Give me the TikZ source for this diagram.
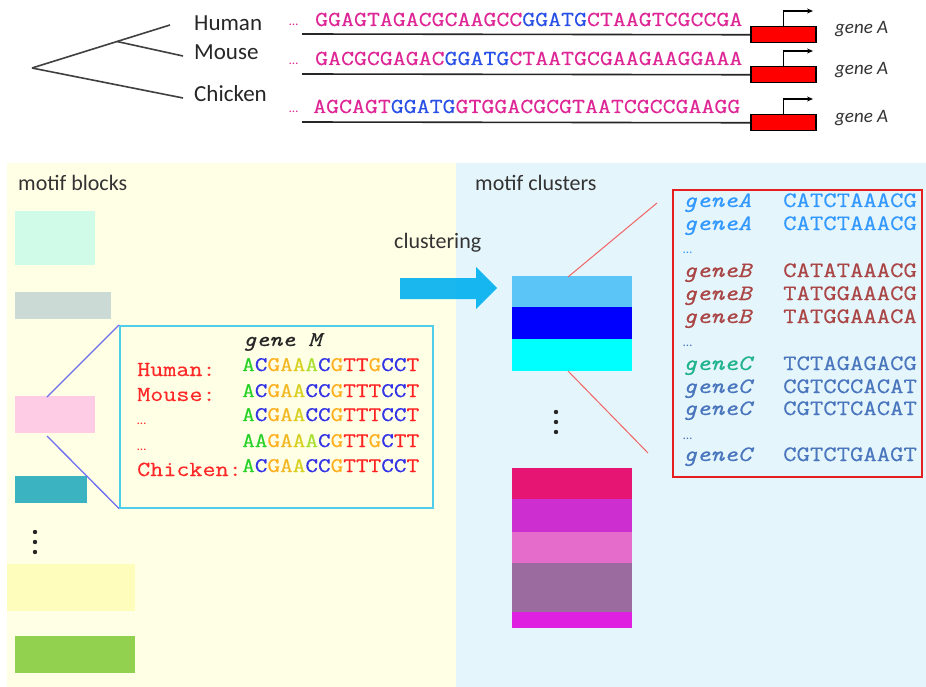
\documentclass[tikz,border=0pt]{standalone}
\usepackage{fontspec}
\setmainfont{Carlito}
\newfontfamily\seqf[FakeStretch=1.18,FakeBold=0.4]{Latin Modern Mono}
\usetikzlibrary{arrows.meta}
\definecolor{treeC}{RGB}{64,64,64}
\definecolor{seqP}{RGB}{222,38,150}
\definecolor{seqB}{RGB}{40,80,230}
\definecolor{panelY}{RGB}{255,255,229}
\definecolor{panelB}{RGB}{229,245,252}
\definecolor{mintC}{RGB}{208,251,232}
\definecolor{grayC}{RGB}{204,218,214}
\definecolor{pinkC}{RGB}{255,204,229}
\definecolor{tealC}{RGB}{60,179,192}
\definecolor{lyelC}{RGB}{255,253,187}
\definecolor{greenC}{RGB}{146,208,80}
\definecolor{boxCyan}{RGB}{80,205,235}
\definecolor{slateL}{RGB}{110,110,240}
\definecolor{arrowC}{RGB}{0,176,240}
\definecolor{cl1}{RGB}{91,197,248}
\definecolor{cl2}{RGB}{0,0,255}
\definecolor{cl3}{RGB}{0,255,255}
\definecolor{cl4}{RGB}{230,20,115}
\definecolor{cl5}{RGB}{204,46,207}
\definecolor{cl6}{RGB}{229,108,202}
\definecolor{cl7}{RGB}{155,107,160}
\definecolor{cl8}{RGB}{224,32,224}
\definecolor{redB}{RGB}{230,30,30}
\definecolor{redL}{RGB}{240,100,100}
\definecolor{labR}{RGB}{255,40,40}
\definecolor{gA}{RGB}{40,210,40}
\definecolor{bC}{RGB}{50,50,230}
\definecolor{oG}{RGB}{255,176,32}
\definecolor{rT}{RGB}{255,32,32}
\definecolor{yA}{RGB}{242,184,36}
\definecolor{yB}{RGB}{216,208,32}
\definecolor{yC}{RGB}{168,224,48}
\definecolor{gnA}{RGB}{51,153,255}
\definecolor{gnB}{RGB}{170,70,70}
\definecolor{gnC}{RGB}{74,118,190}
\definecolor{gnCg}{RGB}{32,180,140}
\newcommand\rowb{{\color{gA}A}{\color{bC}C}{\color{oG}G}{\color{yA}A}{\color{yB}A}{\color{bC}CC}{\color{oG}G}{\color{rT}TTT}{\color{bC}CC}{\color{rT}T}}
\begin{document}
\begin{tikzpicture}[x=1pt,y=-1pt,
  sp/.style={anchor=base west, inner sep=0pt, font=\fontsize{23}{23}\selectfont, text=black!85},
  seqtxt/.style={anchor=base west, inner sep=0pt, font=\seqf\fontsize{21.3}{21.3}\selectfont},
  gtag/.style={anchor=base west, inner sep=0pt, font=\itshape\fontsize{19}{19}\selectfont, text=black!80},
  redbox/.style={draw=black, fill=red, line width=1.5pt, minimum width=65pt, minimum height=16pt, anchor=north west, inner sep=0pt},
  blk/.style={draw=none, inner sep=0pt, anchor=north west},
  ttl/.style={anchor=base west, inner sep=0pt, font=\fontsize{22}{22}\selectfont, text=black!80},
  gm/.style={anchor=base west, inner sep=0pt, font=\seqf\fontsize{21.5}{21.5}\selectfont},
  cls/.style={anchor=base west, inner sep=0pt, font=\seqf\fontsize{22}{22}\selectfont},
  dotsm/.style={anchor=base west, inner sep=0pt, font=\fontsize{13}{13}\selectfont},
  treeline/.style={draw=treeC, line width=1.6pt},
  baseline/.style={draw=black!85, line width=1.6pt},
  promo/.style={draw=black, line width=1.3pt, -{Stealth[length=6pt,width=5pt]}},
]
\useasboundingbox (0,0) rectangle (926,687);
\fill[white] (0,0) rectangle (926,687);

% ---------- tree ----------
\coordinate (r) at (32,68);
\coordinate (h) at (170,25);
\coordinate (br) at (117,41.5);
\coordinate (m) at (183,56);
\coordinate (c) at (183,98);
\draw[treeline] (r) -- (h);
\draw[treeline] (br) -- (m);
\draw[treeline] (r) -- (c);
\node[sp] (lh) at (194,31) {Human};
\node[sp] (lm) at (194,60) {Mouse};
\node[sp] (lc) at (194,102) {Chicken};

% ---------- sequences ----------
\node[dotsm, text=seqP] (d1) at (289,26) {\ldots};
\node[dotsm, text=seqP] (d2) at (289,65) {\ldots};
\node[dotsm, text=seqP] (d3) at (289,113) {\ldots};
\node[seqtxt] (s1) at (315,26) {{\color{seqP}GGAGTAGACGCAAGCC}{\color{seqB}GGATG}{\color{seqP}CTAAGTCGCCGA}};
\node[seqtxt] (s2) at (315,65) {{\color{seqP}GACGCGAGAC}{\color{seqB}GGATG}{\color{seqP}CTAATGCGAAGAAGGAAA}};
\node[seqtxt] (s3) at (313,113) {{\color{seqP}AGCAGT}{\color{seqB}GGATG}{\color{seqP}GTGGACGCGTAATCGCCGAAGG}};

\node[redbox] (b1) at (750,26) {};
\node[redbox] (b2) at (750,66) {};
\node[redbox] (b3) at (750,114) {};
\coordinate (l1) at (302,34);
\coordinate (l2) at (302,74);
\coordinate (l3) at (302,122);
\draw[baseline] (l1) -- (b1.west);
\draw[baseline] (l2) -- (b2.west);
\draw[baseline] (l3) -- (b3.west);
\coordinate (t1) at (813,11);
\coordinate (t2) at (813,51);
\coordinate (t3) at (813,99);
\draw[promo] (b1.north) |- (t1);
\draw[promo] (b2.north) |- (t2);
\draw[promo] (b3.north) |- (t3);
\node[gtag] (g1) at (835,34) {gene A};
\node[gtag] (g2) at (835,75) {gene A};
\node[gtag] (g3) at (835,123) {gene A};

% ---------- panels ----------
\fill[panelY] (7,163) rectangle (456,687);
\fill[panelB] (456,163) rectangle (926,687);
\node[ttl] (tb) at (18,191) {motif blocks};
\node[ttl] (tc) at (475,191) {motif clusters};
\node[ttl] (tcl) at (394,248) {clustering};

% left blocks
\node[blk, fill=mintC, minimum width=80pt, minimum height=54pt] (k1) at (15,211) {};
\node[blk, fill=grayC, minimum width=96pt, minimum height=27pt] (k2) at (15,292) {};
\node[blk, fill=pinkC, minimum width=80pt, minimum height=37pt] (k3) at (15,396) {};
\node[blk, fill=tealC, minimum width=72pt, minimum height=27pt] (k4) at (15,476) {};
\node[blk, fill=lyelC, minimum width=128pt, minimum height=47pt] (k5) at (7,564) {};
\node[blk, fill=greenC, minimum width=120pt, minimum height=37pt] (k6) at (15,636) {};
\foreach \yy in {532,542,552} \fill[black!85] (35,\yy) circle (2.2pt);

% gene M box
\node[draw=boxCyan, line width=1.5pt, fill=panelY, minimum width=313pt, minimum height=182pt, anchor=north west, inner sep=0pt] (gmb) at (119,325) {};
\coordinate (pt) at (47,397);
\coordinate (pb) at (47,436);
\draw[slateL, line width=1.3pt] (pt) -- (gmb.north west);
\draw[slateL, line width=1.3pt] (pb) -- (gmb.south west);
\node[gm, font=\seqf\itshape\fontsize{21}{21}\selectfont, text=black!85] (gmt) at (243,346) {gene M};
\node[gm, text=labR] (gl1) at (137,376) {Human:};
\node[gm, text=labR] (gl2) at (137,401) {Mouse:};
\node[dotsm, text=labR] (gl3) at (137,424) {\ldots};
\node[dotsm, text=labR] (gl4) at (137,450) {\ldots};
\node[gm, text=labR] (gl5) at (137,476) {Chicken:};
\node[gm, font=\seqf\fontsize{20.8}{20.8}\selectfont] (gs1) at (242,371) {{\color{gA}A}{\color{bC}C}{\color{oG}G}{\color{yA}A}{\color{yB}A}{\color{yC}A}{\color{bC}C}{\color{oG}G}{\color{rT}TT}{\color{oG}G}{\color{bC}CC}{\color{rT}T}};
\node[gm, font=\seqf\fontsize{20.8}{20.8}\selectfont] (gs2) at (242,397) {\rowb};
\node[gm, font=\seqf\fontsize{20.8}{20.8}\selectfont] (gs3) at (242,421) {\rowb};
\node[gm, font=\seqf\fontsize{20.8}{20.8}\selectfont] (gs4) at (242,447) {{\color{gA}AA}{\color{oG}G}{\color{yA}A}{\color{yB}A}{\color{yC}A}{\color{bC}C}{\color{oG}G}{\color{rT}TT}{\color{oG}G}{\color{bC}C}{\color{rT}TT}};
\node[gm, font=\seqf\fontsize{20.8}{20.8}\selectfont] (gs5) at (242,472) {\rowb};

% clustering arrow
\fill[arrowC, opacity=0.9] (400,278) -- (476,278) -- (476,267) -- (497,288) -- (476,309) -- (476,299) -- (400,299) -- cycle;

% cluster blocks
\node[blk, fill=cl1, minimum width=120pt, minimum height=31pt] (c1b) at (512,276) {};
\node[blk, fill=cl2, minimum width=120pt, minimum height=32pt] (c2b) at (512,307) {};
\node[blk, fill=cl3, minimum width=120pt, minimum height=32pt] (c3b) at (512,339) {};
\foreach \yy in {412,422,432} \fill[black!85] (556,\yy) circle (2.2pt);
\node[blk, fill=cl4, minimum width=120pt, minimum height=31pt] (c4b) at (512,468) {};
\node[blk, fill=cl5, minimum width=120pt, minimum height=33pt] (c5b) at (512,499) {};
\node[blk, fill=cl6, minimum width=120pt, minimum height=31pt] (c6b) at (512,532) {};
\node[blk, fill=cl7, minimum width=120pt, minimum height=49pt] (c7b) at (512,563) {};
\node[blk, fill=cl8, minimum width=120pt, minimum height=16pt] (c8b) at (512,612) {};

% cluster detail box
\node[draw=redB, line width=1.6pt, minimum width=249pt, minimum height=287pt, anchor=north west, inner sep=0pt] (cbx) at (672,189) {};
\coordinate (q1) at (568,277);
\coordinate (q2) at (657,203);
\coordinate (q3) at (568,371);
\coordinate (q4) at (648,453);
\draw[redL, line width=1pt] (q1) -- (q2);
\draw[redL, line width=1pt] (q3) -- (q4);

\node[cls, font=\seqf\itshape\fontsize{22}{22}\selectfont, text=gnA] (n1) at (683,207) {geneA};
\node[cls, text=gnA] (v1) at (783,207) {CATCTAAACG};
\node[cls, font=\seqf\itshape\fontsize{22}{22}\selectfont, text=gnA] (n2) at (683,230) {geneA};
\node[cls, text=gnA] (v2) at (783,230) {CATCTAAACG};
\node[dotsm, text=gnA] (e1) at (683,253) {\ldots};
\node[cls, font=\seqf\itshape\fontsize{22}{22}\selectfont, text=gnB] (n3) at (683,277) {geneB};
\node[cls, text=gnB] (v3) at (783,277) {CATATAAACG};
\node[cls, font=\seqf\itshape\fontsize{22}{22}\selectfont, text=gnB] (n4) at (683,300) {geneB};
\node[cls, text=gnB] (v4) at (783,300) {TATGGAAACG};
\node[cls, font=\seqf\itshape\fontsize{22}{22}\selectfont, text=gnB] (n5) at (683,323) {geneB};
\node[cls, text=gnB] (v5) at (783,323) {TATGGAAACA};
\node[dotsm, text=gnC] (e2) at (683,346) {\ldots};
\node[cls, font=\seqf\itshape\fontsize{22}{22}\selectfont, text=gnCg] (n6) at (683,370) {geneC};
\node[cls, text=gnC] (v6) at (783,370) {TCTAGAGACG};
\node[cls, font=\seqf\itshape\fontsize{22}{22}\selectfont, text=gnC] (n7) at (683,393) {geneC};
\node[cls, text=gnC] (v7) at (783,393) {CGTCCCACAT};
\node[cls, font=\seqf\itshape\fontsize{22}{22}\selectfont, text=gnC] (n8) at (683,415) {geneC};
\node[cls, text=gnC] (v8) at (783,415) {CGTCTCACAT};
\node[dotsm, text=gnC] (e3) at (683,439) {\ldots};
\node[cls, font=\seqf\itshape\fontsize{22}{22}\selectfont, text=gnC] (n9) at (683,461) {geneC};
\node[cls, text=gnC] (v9) at (783,461) {CGTCTGAAGT};
\end{tikzpicture}
\end{document}
